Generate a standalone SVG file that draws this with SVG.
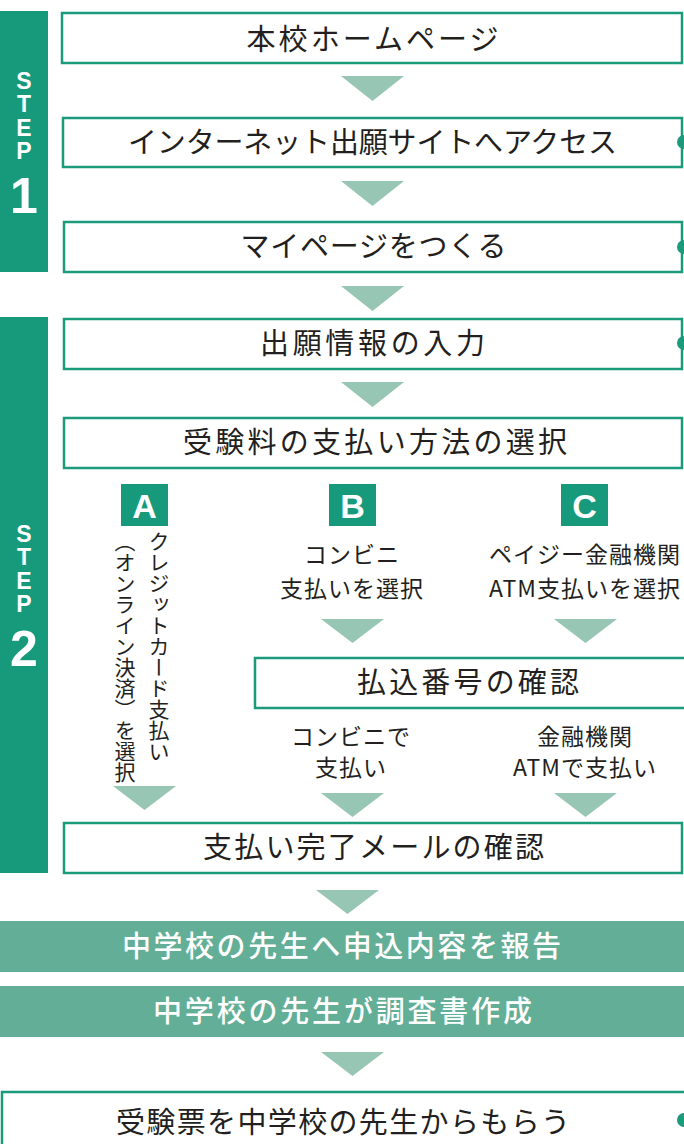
<svg xmlns="http://www.w3.org/2000/svg" width="684" height="1144" viewBox="0 0 684 1144">
<style>
.box{fill:#fff;stroke:#1b9a7c;stroke-width:2.5}
.step{fill:#179a7b}
.bar{fill:#62ae97}
.arr{fill:#97c6b4}
.dot{fill:#1b9a7c}
.t{font-family:"Noto Sans CJK JP","Noto Sans",sans-serif;font-size:29px;fill:#231f20;text-anchor:middle}
.s{font-family:"Noto Sans CJK JP","Noto Sans",sans-serif;font-size:23px;fill:#231f20;text-anchor:middle;letter-spacing:1px}
.w{font-family:"Noto Sans CJK JP","Noto Sans",sans-serif;font-size:29px;fill:#fff;text-anchor:middle;font-weight:500}
.st{font-family:"Liberation Sans",Arial,sans-serif;font-weight:bold;fill:#fff;text-anchor:middle}
.sv{font-family:"Liberation Sans",Arial,sans-serif;font-weight:bold;fill:#fff;font-size:23px;writing-mode:vertical-rl;text-orientation:upright;letter-spacing:-2.7px}
.lt{font-family:"Liberation Sans",Arial,sans-serif;font-weight:bold;fill:#fff;text-anchor:middle;font-size:34px}
.v{font-family:"Noto Sans CJK JP",sans-serif;font-size:21px;fill:#231f20;writing-mode:vertical-rl;text-orientation:mixed}
</style>

<g id="step1">
<rect class="step" x="0" y="11" width="48" height="261"/>
<text class="sv" x="24" y="68">STEP</text>
<text class="st" x="24" y="213" font-size="50">1</text>
</g>
<g id="step2">
<rect class="step" x="0" y="317" width="48" height="556"/>
<text class="sv" x="24" y="521">STEP</text>
<text class="st" x="24" y="666" font-size="50">2</text>
</g>

<g id="connectors">
<polygon class="arr" points="341,76 404,76 372.5,101"/>
<polygon class="arr" points="341,181 404,181 372.5,206"/>
<polygon class="arr" points="341,286 404,286 372.5,311"/>
<polygon class="arr" points="341,382 404,382 372.5,407"/>
<polygon class="arr" points="321,619 384,619 352.5,643"/>
<polygon class="arr" points="554,619 617,619 585.5,643"/>
<polygon class="arr" points="113,786 176,786 144.5,810"/>
<polygon class="arr" points="321,793 384,793 352.5,817"/>
<polygon class="arr" points="554,793 617,793 585.5,817"/>
<polygon class="arr" points="316,890 379,890 347.5,914"/>
<polygon class="arr" points="321,1052 384,1052 352.5,1076"/>
</g>

<g id="n1">
<rect class="box" x="62" y="13" width="620" height="50"/>
<text class="t" x="372.5" y="50" textLength="252" lengthAdjust="spacing">本校ホームページ</text>
</g>
<g id="n2">
<rect class="box" x="63" y="118" width="619" height="49"/>
<text class="t" x="372.5" y="153" textLength="489" lengthAdjust="spacing">インターネット出願サイトへアクセス</text>
<circle class="dot" cx="684" cy="142" r="7"/>
</g>
<g id="n3">
<rect class="box" x="64" y="222" width="618" height="50"/>
<text class="t" x="373.5" y="257" textLength="266" lengthAdjust="spacing">マイページをつくる</text>
<circle class="dot" cx="684" cy="247" r="7"/>
</g>
<g id="n4">
<rect class="box" x="64" y="319" width="618" height="50"/>
<text class="t" x="372.5" y="354" textLength="225" lengthAdjust="spacing">出願情報の入力</text>
<circle class="dot" cx="684" cy="343" r="7"/>
</g>
<g id="n5">
<rect class="box" x="64" y="418" width="618" height="50"/>
<text class="t" x="375" y="453" textLength="384" lengthAdjust="spacing">受験料の支払い方法の選択</text>
</g>

<g id="optA">
<rect class="step" x="121" y="484" width="47" height="42"/>
<text class="lt" x="144.5" y="518">A</text>
<text class="v" x="159" y="531">クレジットカード支払い</text>
<text class="v" x="125" y="531">（オンライン決済）を選択</text>
</g>
<g id="optB">
<rect class="step" x="329" y="484" width="47" height="42"/>
<text class="lt" x="352.5" y="518">B</text>
<text class="s" x="352" y="563">コンビニ</text>
<text class="s" x="352" y="597">支払いを選択</text>
</g>
<g id="optC">
<rect class="step" x="561" y="484" width="47" height="42"/>
<text class="lt" x="584.5" y="518">C</text>
<text class="s" x="585" y="563">ペイジー金融機関</text>
<text class="s" x="585" y="597">ATM支払いを選択</text>
</g>

<g id="n6">
<rect class="box" x="255" y="658" width="440" height="50"/>
<text class="t" x="468" y="693" textLength="222" lengthAdjust="spacing">払込番号の確認</text>
</g>
<g id="payB">
<text class="s" x="351" y="745">コンビニで</text>
<text class="s" x="351" y="776">支払い</text>
</g>
<g id="payC">
<text class="s" x="585" y="745">金融機関</text>
<text class="s" x="585" y="776">ATMで支払い</text>
</g>

<g id="n7">
<rect class="box" x="64" y="823" width="618" height="50"/>
<text class="t" x="373.5" y="858" textLength="341" lengthAdjust="spacing">支払い完了メールの確認</text>
</g>

<g id="n8">
<rect class="bar" x="0" y="921" width="684" height="51"/>
<text class="w" x="341.5" y="957" textLength="439" lengthAdjust="spacing">中学校の先生へ申込内容を報告</text>
</g>
<g id="n9">
<rect class="bar" x="0" y="986" width="684" height="51"/>
<text class="w" x="342.5" y="1022" textLength="379" lengthAdjust="spacing">中学校の先生が調査書作成</text>
</g>

<g id="n10">
<rect class="box" x="2" y="1092" width="700" height="80"/>
<text class="t" x="343" y="1133" textLength="454" lengthAdjust="spacing">受験票を中学校の先生からもらう</text>
<circle class="dot" cx="684" cy="1120" r="7"/>
</g>
</svg>
